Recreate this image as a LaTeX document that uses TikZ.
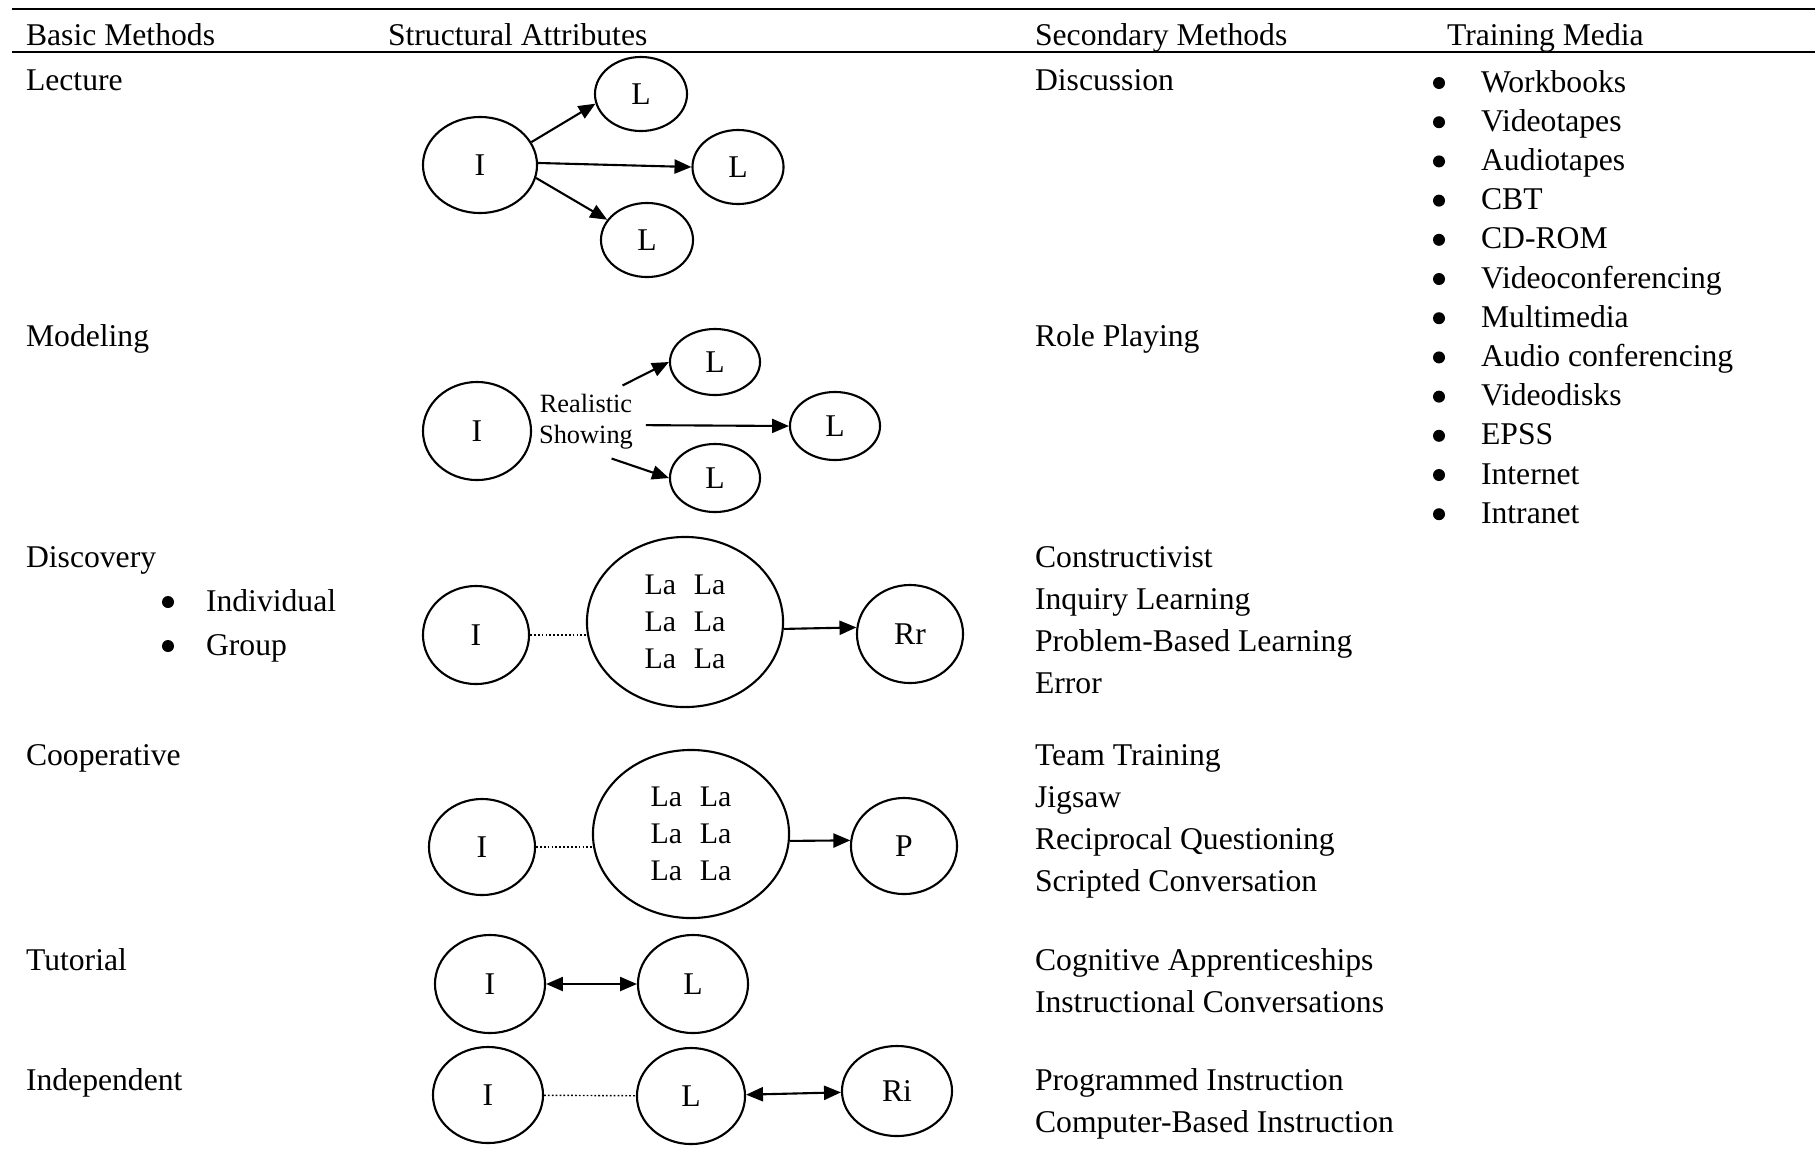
\documentclass[tikz,border=0pt]{standalone}
\usepackage{fontspec}
\setmainfont{Liberation Serif}
\usetikzlibrary{shapes.geometric,arrows.meta}
\newcommand{\lala}{La\hspace{0.6em}La}
\newcommand{\mediaGap}{39.2}

\begin{document}
\begin{tikzpicture}[x=0.01cm, y=-0.01cm, line width=0.6pt]
  \tikzset{every node/.style={font=\fontsize{9}{11}\selectfont},
    txt/.style={anchor=base west, inner sep=0pt},
    bul/.style={circle, fill, inner sep=0pt, minimum size=0.12cm},
    person/.style 2 args={ellipse, draw, inner sep=0pt, minimum width=#1, minimum height=#2, font=\fontsize{9}{10.5}\selectfont},
    arr/.style={-{Triangle[length=4.8pt,width=4pt]}},
    dblarr/.style={{Triangle[length=4.8pt,width=4pt]}-{Triangle[length=4.8pt,width=4pt]}},
    dots/.style={line width=0.4pt, dash pattern=on 0.5pt off 0.6pt}}
  \useasboundingbox (0,0) rectangle (1815,1163);
  \draw[line width=0.8pt] (12,9) -- (1815,9);
  \draw[line width=0.8pt] (12,52) -- (1815,52);
  \node[txt] (head-1) at (25,45) {Basic Methods};
  \node[txt] (head-2) at (387,45) {Structural Attributes};
  \node[txt] (head-3) at (1034,45) {Secondary Methods};
  \node[txt] (head-4) at (1446,45) {Training Media};
  \node[txt] (basic-1) at (25,90) {Lecture};
  \node[txt] (basic-2) at (25,346) {Modeling};
  \node[txt] (basic-3) at (25,567) {Discovery};
  \node[bul] (bul-3-1) at (168,602) {};
  \node[txt] (sub-3-1) at (205,611) {Individual};
  \node[bul] (bul-3-2) at (168,646) {};
  \node[txt] (sub-3-2) at (205,655) {Group};
  \node[txt] (basic-4) at (25,765) {Cooperative};
  \node[txt] (basic-5) at (25,970) {Tutorial};
  \node[txt] (basic-6) at (25,1090) {Independent};
  \node[txt] (sec-1-1) at (1034,90) {Discussion};
  \node[txt] (sec-2-1) at (1034,346) {Role Playing};
  \node[txt] (sec-3-1) at (1034,567) {Constructivist};
  \node[txt] (sec-3-2) at (1034,609) {Inquiry Learning};
  \node[txt] (sec-3-3) at (1034,651) {Problem-Based Learning};
  \node[txt] (sec-3-4) at (1034,693) {Error};
  \node[txt] (sec-4-1) at (1034,765) {Team Training};
  \node[txt] (sec-4-2) at (1034,807) {Jigsaw};
  \node[txt] (sec-4-3) at (1034,849) {Reciprocal Questioning};
  \node[txt] (sec-4-4) at (1034,891) {Scripted Conversation};
  \node[txt] (sec-5-1) at (1034,970) {Cognitive Apprenticeships};
  \node[txt] (sec-5-2) at (1034,1012) {Instructional Conversations};
  \node[txt] (sec-6-1) at (1034,1090) {Programmed Instruction};
  \node[txt] (sec-6-2) at (1034,1132) {Computer-Based Instruction};
  \foreach \med [count=\k] in {Workbooks, Videotapes, Audiotapes, CBT, CD-ROM,
      Videoconferencing, Multimedia, Audio conferencing, Videodisks, EPSS,
      Internet, Intranet} {
    \node[bul] (dot-\k) at (1439,{83+\mediaGap*(\k-1)}) {};
    \node[txt] (media-\k) at (1480,{92+\mediaGap*(\k-1)}) {\med};
  }
  \node[person={1.14cm}{0.96cm}] (I-1) at (480,165) {I};
  \node[person={0.92cm}{0.74cm}] (L-1-1) at (641,94) {L};
  \node[person={0.91cm}{0.74cm}] (L-1-2) at (738,167) {L};
  \node[person={0.92cm}{0.74cm}] (L-1-3) at (647,240) {L};
  \draw[arr] (I-1.24) -- (L-1-1.192);
  \draw[arr] (I-1.2) -- (L-1-2.180);
  \draw[arr] (I-1.347) -- (L-1-3.153);
  \node[person={1.08cm}{0.98cm}] (I-2) at (477,431) {I};
  \node[font=\fontsize{7.5}{8.8}\selectfont, align=center, inner xsep=0.12cm, inner ysep=0.08cm] (RS-2) at (586,422) {Realistic\\Showing};
  \node[person={0.90cm}{0.66cm}] (L-2-1) at (715,362) {L};
  \node[person={0.90cm}{0.68cm}] (L-2-2) at (835,426) {L};
  \node[person={0.90cm}{0.68cm}] (L-2-3) at (715,478) {L};
  \draw[arr] (RS-2.45) -- (L-2-1.west);
  \draw[arr] (RS-2.357) -- (L-2-2.west);
  \draw[arr] (RS-2.305) -- (L-2-3.west);
  \node[person={1.06cm}{0.98cm}] (I-3) at (476,635) {I};
  \node[person={1.96cm}{1.70cm}, align=center, font=\fontsize{8.5}{10.5}\selectfont] (La-3) at (685,622) {\lala\\\lala\\\lala};
  \node[person={1.06cm}{0.98cm}] (Rr-3) at (910,634) {Rr};
  \draw[dots] (I-3.east) -- (I-3.east -| La-3.west);
  \draw[arr] (La-3.356) -- (Rr-3.173);
  \node[person={1.06cm}{0.96cm}] (I-4) at (482,847) {I};
  \node[person={1.96cm}{1.68cm}, align=center, font=\fontsize{8.5}{10.5}\selectfont] (La-4) at (691,834) {\lala\\\lala\\\lala};
  \node[person={1.06cm}{0.96cm}] (P-4) at (904,846) {P};
  \draw[dots] (I-4.east) -- (I-4.east -| La-4.west);
  \draw[arr] (La-4.356) -- (P-4.174);
  \node[person={1.10cm}{0.98cm}] (I-5) at (490,984) {I};
  \node[person={1.10cm}{0.98cm}] (L-5) at (693,984) {L};
  \draw[dblarr] (I-5) -- (L-5);
  \node[person={1.10cm}{0.96cm}] (I-6) at (488,1095) {I};
  \node[person={1.08cm}{0.96cm}] (L-6) at (691,1096) {L};
  \node[person={1.10cm}{0.90cm}] (Ri-6) at (897,1091) {Ri};
  \draw[dots] (I-6) -- (L-6);
  \draw[dblarr] (L-6) -- (Ri-6);
\end{tikzpicture}
\end{document}
